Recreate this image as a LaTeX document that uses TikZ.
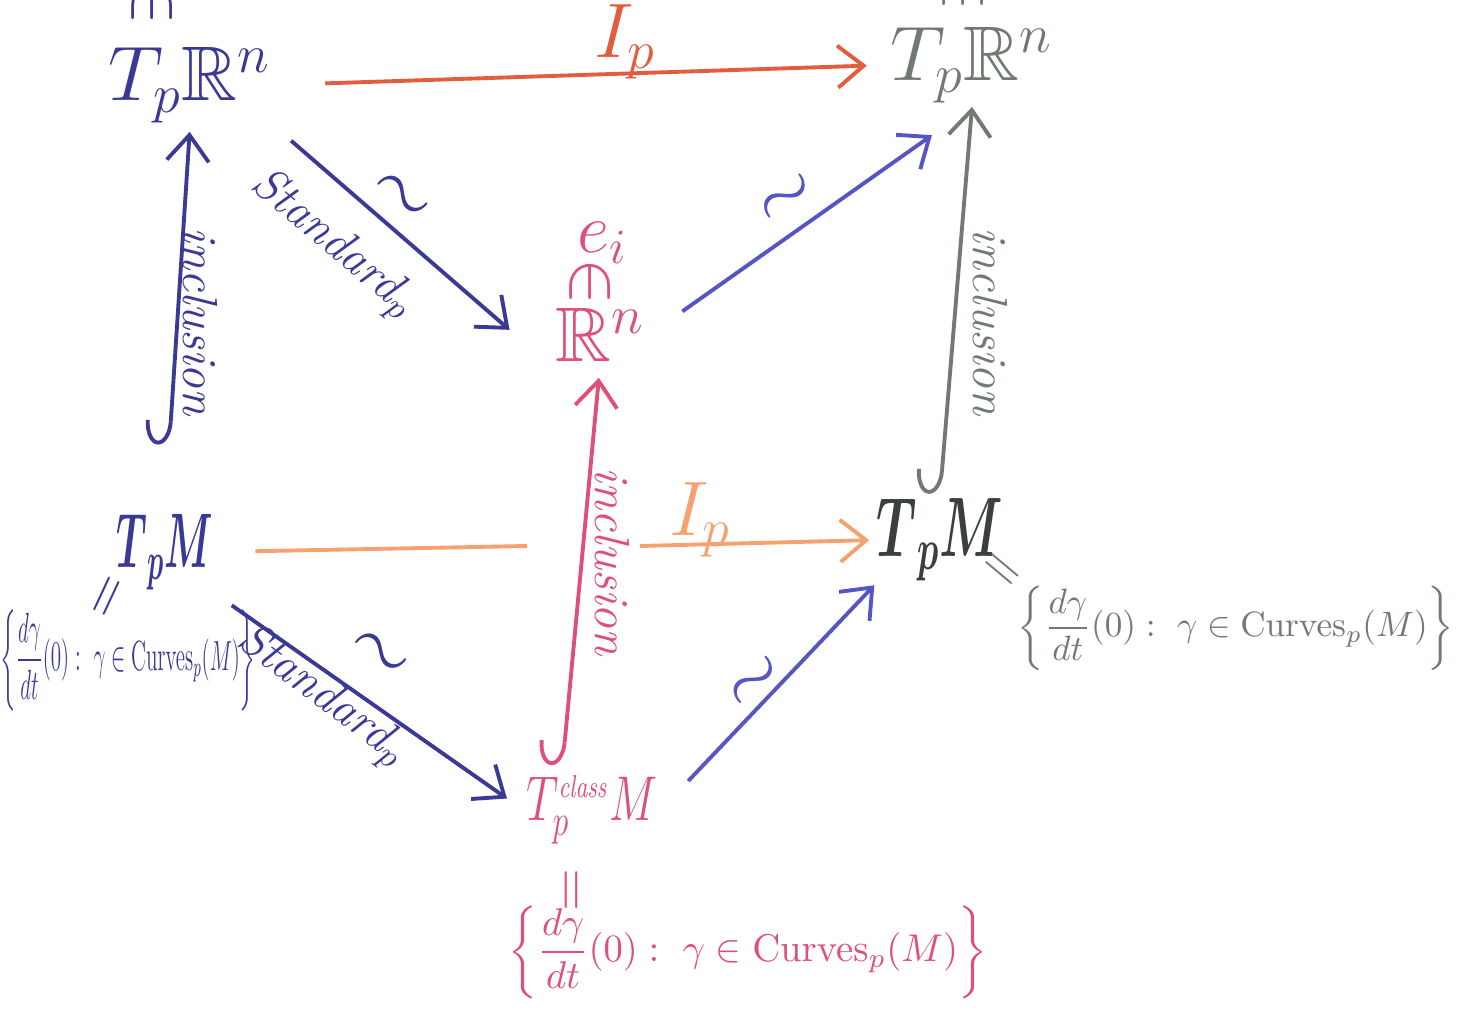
\RequirePackage{fix-cm}
\documentclass[tikz,border=0pt]{standalone}
\usepackage{amsmath,amssymb}
\usetikzlibrary{arrows.meta,calc}
\definecolor{cblue}{RGB}{58,58,150}
\definecolor{cblueL}{RGB}{85,85,195}
\definecolor{cpink}{RGB}{222,80,120}
\definecolor{cgray}{RGB}{112,122,112}
\definecolor{cdark}{RGB}{58,64,60}
\definecolor{cred}{RGB}{226,92,62}
\definecolor{corange}{RGB}{246,162,112}
\newcommand\fsz[1]{\fontsize{#1}{#1}\selectfont}
\newcommand\curveset{\displaystyle\left\{\frac{d\gamma}{dt}(0):\ \gamma\in\mathrm{Curves}_p(M)\right\}}
\newcommand\bTpM{\boldsymbol{T}_{\boldsymbol{p}}\boldsymbol{M}}
\begin{document}
\begin{tikzpicture}[x=0.01cm,y=-0.01cm,
  obj/.style={inner sep=1pt},
  arr/.style={line width=1.1pt,-{Straight Barb[length=2.6mm,width=4.2mm]}},
  hookarr/.style={line width=1.1pt,{Hooks[right,length=2.4mm,width=5mm]}-{Straight Barb[length=2.6mm,width=4.2mm]}},
  plain/.style={line width=1.1pt}]
\useasboundingbox (0,0) rectangle (1463,1012);
\fill[white] (0,0) rectangle (1463,1012);
% objects
\node[obj,text=cblue,font=\fsz{22}] (TRl) at (190,85) {$T_p\mathbb{R}^n$};
\node[obj,text=cgray,font=\fsz{22}] (TRr) at (972,65) {$T_p\mathbb{R}^n$};
\node[obj,text=cpink,font=\fsz{22}] (Rn) at (600,335) {$\mathbb{R}^n$};
\node[text=cpink,font=\fsz{20}] (ei) at (603,243) {$e_i$};
\node[text=cpink,font=\fsz{20}] (eiin) at (590,282) {\rotatebox{-90}{$\in$}};
\node[obj,text=cblue,font=\fsz{22},xscale=0.5] (TMl) at (165,552) {$\bTpM$};
\node[obj,text=cdark,font=\fsz{24},xscale=0.6] (TMr) at (940,540) {$\bTpM$};
\node[obj,text=cpink,font=\fsz{18},xscale=0.72] (Tcl) at (592,810) {$T_p^{\scriptscriptstyle\mathit{class}}M$};
\node[text=cblue,font=\fsz{20}] (topL) at (152,2) {\rotatebox{-90}{$\in$}};
\node[text=cgray,font=\fsz{20}] (topR) at (963,-12) {\rotatebox{-90}{$\in$}};
% equalities and sets
\node[text=cblue,font=\fsz{16},rotate=65] (eqL) at (110,598) {$=$};
\node[text=cgray,font=\fsz{15},rotate=-40] (eqR) at (1000,572) {$=$};
\node[text=cpink,font=\fsz{16},rotate=90] (eqB) at (575,890) {$=$};
\node[text=cblue,font=\fsz{12},xscale=0.5] (setL) at (128,660) {$\curveset$};
\node[text=cgray,font=\fsz{10}] (setR) at (1236,628) {$\curveset$};
\node[text=cpink,font=\fsz{11}] (setB) at (748,952) {$\curveset$};
% labels
\node[text=cred,font=\fsz{22}] (Ip1) at (625,42) {$I_p$};
\node[text=corange,font=\fsz{22}] (Ip2) at (700,520) {$I_p$};
\node[text=cblue,font=\fsz{13.5},rotate=-40] (st1) at (333,245) {\textit{Standard}$_p$};
\node[text=cblue,font=\fsz{22},rotate=-40] (sim1) at (400,198) {$\sim$};
\node[text=cblue,font=\fsz{13.5},rotate=-37] (st2) at (322,697) {\textit{Standard}$_p$};
\node[text=cblue,font=\fsz{22},rotate=-37] (sim2) at (378,655) {$\sim$};
\node[text=cblueL,font=\fsz{22},rotate=37] (sim3) at (788,200) {$\sim$};
\node[text=cblueL,font=\fsz{22},rotate=43] (sim4) at (757,684) {$\sim$};
\node[text=cblue,font=\fsz{14},rotate=-90] (inc1) at (200,322) {\textit{inclusion}};
\node[text=cpink,font=\fsz{14},rotate=-90] (inc2) at (612,562) {\textit{inclusion}};
\node[text=cgray,font=\fsz{14},rotate=-90] (inc3) at (990,322) {\textit{inclusion}};
% connectors
\coordinate (gL) at (527,546);
\coordinate (gR) at (640,546);
\draw[arr,cred,shorten <=0.5cm,shorten >=0.2cm] (TRl.east) -- (TRr.west);
\draw[plain,corange,shorten <=0.4cm] (TMl.east) -- (gL);
\draw[arr,corange,shorten >=0.05cm] (gR) -- (TMr.west);
\draw[arr,cblue,shorten <=0.21cm,shorten >=0.55cm] (TRl.south east) -- (Rn.south west);
\draw[arr,cblueL,shorten <=0.41cm,shorten >=0.49cm] (Rn.east) -- (TRr.south);
\draw[arr,cblue,shorten <=0.2cm,shorten >=0.2cm] (TMl.south east) -- (Tcl.west);
\draw[arr,cblueL,shorten <=0.4cm] (Tcl.east) -- (TMr.south west);
\draw[hookarr,cblue,shorten <=0.65cm,shorten >=0.05cm] (TMl.north) -- (TRl.south);
\draw[hookarr,cpink,shorten <=0.05cm,shorten >=0.12cm] ([xshift=-0.3cm]Tcl.north) -- (Rn.south);
\draw[hookarr,cgray] (TMr.north) -- (TRr.south);
\end{tikzpicture}
\end{document}
